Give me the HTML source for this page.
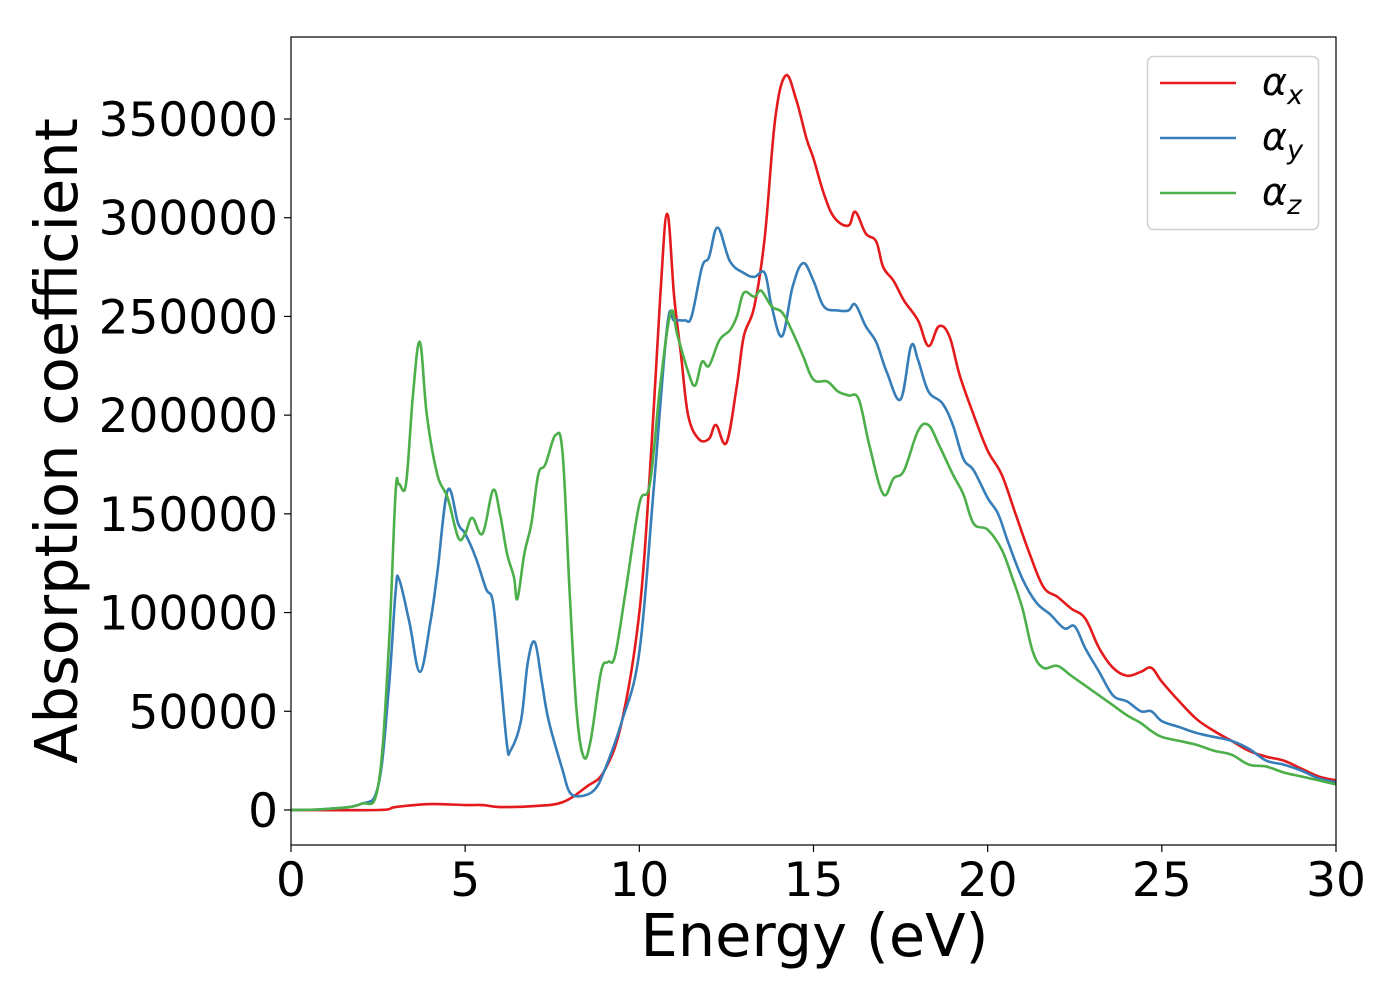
<!DOCTYPE html>
<html><head><meta charset="utf-8">
<style>
html,body{margin:0;padding:0;background:#fff;}
svg{display:block;font-family:"DejaVu Sans","Liberation Sans",sans-serif;}
</style></head>
<body>
<svg id="chart" width="1400" height="1000" viewBox="0 0 1400 1000"></svg>
<script>
const xTicks=[0,5,10,15,20,25,30];
const yTicks=[0,50000,100000,150000,200000,250000,300000,350000];
const seriesNames=["x","y","z"];
const seriesColors=["#e41a1c","#377eb8","#4daf4a"];
const redX=[0,2.5,3,4,5,5.5,6,7,7.8,8.5,9,9.5,10,10.3,10.6,10.8,11,11.2,11.4,11.7,12,12.2,12.5,12.8,13,13.3,13.6,13.9,14.2,14.5,14.8,15,15.3,15.6,16,16.2,16.5,16.8,17,17.3,17.6,18,18.3,18.6,18.9,19.2,19.6,20,20.4,20.8,21.2,21.6,22,22.4,22.8,23.2,23.6,24,24.4,24.7,25,25.5,26,26.5,27,27.5,28,28.5,29,29.5,30];
const redY=[0,0,1500,3000,2500,2500,1500,2000,4000,12000,20000,45000,100000,170000,260000,302000,260000,230000,200000,188000,188000,195000,186000,215000,240000,255000,290000,350000,372000,360000,340000,330000,312000,300000,296000,303000,292000,288000,275000,268000,258000,248000,235000,245000,240000,220000,200000,182000,170000,150000,130000,113000,108000,102000,97000,82000,72000,68000,70000,72000,65000,55000,46000,40000,35000,30000,27000,25000,21000,17000,15000];
const blueX=[0,1,2,2.5,2.8,3,3.1,3.4,3.7,4,4.2,4.5,4.8,5,5.3,5.6,5.8,6,6.2,6.3,6.6,6.8,7,7.2,7.4,7.8,8,8.3,8.7,9,9.5,10,10.4,10.8,11,11.3,11.5,11.8,12,12.25,12.6,13,13.3,13.6,13.8,14.1,14.4,14.7,15,15.3,15.7,16,16.2,16.5,16.8,17.1,17.5,17.8,18,18.3,18.7,19,19.3,19.6,20,20.3,20.6,21,21.4,21.8,22.2,22.5,22.8,23.2,23.6,24,24.4,24.7,25,25.5,26,26.5,27,27.5,28,28.5,29,29.5,30];
const blueY=[0,500,3000,12000,60000,110000,117000,95000,70000,95000,120000,162000,145000,140000,128000,112000,105000,70000,33000,30000,45000,75000,85000,65000,45000,20000,9000,7000,10000,20000,45000,80000,160000,245000,248000,248000,250000,275000,280000,295000,278000,272000,270000,272000,255000,240000,265000,277000,268000,255000,253000,253000,256000,245000,237000,222000,208000,235000,228000,212000,206000,195000,178000,172000,158000,150000,135000,117000,105000,99000,92000,93000,82000,70000,58000,55000,50000,50000,45000,42000,39000,37000,35000,31000,25000,23000,20000,16000,14000];
const greenX=[0,1,2,2.5,2.8,3,3.1,3.3,3.5,3.7,3.9,4.2,4.5,4.8,5,5.2,5.5,5.8,6,6.2,6.4,6.5,6.7,6.9,7.1,7.3,7.6,7.8,8,8.2,8.4,8.6,8.9,9.1,9.3,9.6,10,10.3,10.6,10.9,11.1,11.4,11.6,11.8,12,12.3,12.6,12.8,13,13.3,13.5,13.8,14.1,14.4,14.7,15,15.4,15.7,16,16.3,16.6,17,17.3,17.6,18,18.3,18.6,19,19.3,19.6,20,20.4,20.7,21,21.3,21.6,22,22.4,22.8,23.2,23.6,24,24.4,24.7,25,25.5,26,26.5,27,27.5,28,28.5,29,29.5,30];
const greenY=[0,500,3000,12000,80000,160000,165000,165000,210000,237000,200000,170000,158000,138000,140000,148000,140000,162000,150000,130000,118000,107000,130000,145000,170000,175000,190000,180000,110000,50000,27000,35000,70000,75000,78000,110000,155000,165000,215000,252000,240000,222000,215000,227000,225000,238000,243000,250000,262000,260000,263000,255000,252000,242000,230000,218000,217000,212000,210000,208000,185000,160000,168000,172000,192000,195000,185000,170000,160000,145000,142000,132000,118000,102000,80000,72000,73000,68000,63000,58000,53000,48000,44000,40000,37000,35000,33000,30000,28000,23000,22000,19000,17000,15000,13000];

const NS="http://www.w3.org/2000/svg";
const svg=document.getElementById("chart");
const L=291,R=1336,T=37,B=845;
const xMin=0,xMax=30,y0px=810,yScale=691/350000;
function sx(v){return L+(v-xMin)/(xMax-xMin)*(R-L);}
function sy(v){return y0px-v*yScale;}
function mk(tag,attrs,parent){const e=document.createElementNS(NS,tag);for(const k in attrs)e.setAttribute(k,attrs[k]);(parent||svg).appendChild(e);return e;}

const defs=mk("clipPath",{id:"clip"});
mk("rect",{x:L,y:T,width:R-L,height:B-T},defs);

function smoothPath(px,py){
  let d="M"+px[0].toFixed(2)+","+py[0].toFixed(2);
  const n=px.length;
  for(let i=0;i<n-1;i++){
    const x0=px[Math.max(i-1,0)],y0=py[Math.max(i-1,0)];
    const x1=px[i],y1=py[i],x2=px[i+1],y2=py[i+1];
    const x3=px[Math.min(i+2,n-1)],y3=py[Math.min(i+2,n-1)];
    const t=0.18;
    const c1x=x1+(x2-x0)*t,c1y=y1+(y2-y0)*t;
    const c2x=x2-(x3-x1)*t,c2y=y2-(y3-y1)*t;
    d+="C"+c1x.toFixed(2)+","+c1y.toFixed(2)+" "+c2x.toFixed(2)+","+c2y.toFixed(2)+" "+x2.toFixed(2)+","+y2.toFixed(2);
  }
  return d;
}

const xs=[redX,blueX,greenX],ys=[redY,blueY,greenY];
for(let s=0;s<3;s++){
  const d=smoothPath(xs[s].map(sx),ys[s].map(sy));
  const p=mk("path",{d:d,fill:"none",stroke:seriesColors[s],"stroke-width":2.6,"stroke-linejoin":"round","clip-path":"url(#clip)"});
  
  
}

const frame=mk("rect",{x:L,y:T,width:R-L,height:B-T,fill:"none",stroke:"#000","stroke-width":1.2});



xTicks.forEach(v=>{
  const t=mk("line",{x1:sx(v),x2:sx(v),y1:B,y2:B+7,stroke:"#000","stroke-width":1.2});
  
  
  const l=mk("text",{x:sx(v),y:B+51,"text-anchor":"middle","font-size":47,fill:"#000"});
  l.textContent=v;
  
  
});
yTicks.forEach(v=>{
  const t=mk("line",{x1:L-7,x2:L,y1:sy(v),y2:sy(v),stroke:"#000","stroke-width":1.2});
  
  
  const l=mk("text",{x:L-13,y:sy(v)+17,"text-anchor":"end","font-size":47,fill:"#000"});
  l.textContent=v;
  
  
});
const xt=mk("text",{x:(L+R)/2+1,y:956,"text-anchor":"middle","font-size":59,fill:"#000"});
xt.textContent="Energy (eV)";


const yt=mk("text",{x:0,y:0,"text-anchor":"middle","font-size":59,fill:"#000",transform:"translate(77,441) rotate(-90)"});
yt.textContent="Absorption coefficient";



const lg=mk("g",{});


mk("rect",{x:1147.5,y:56.5,width:171,height:173,rx:6,fill:"#fff",stroke:"#d0d0d0","stroke-width":1.5},lg);
const subs=["x","y","z"];
for(let s=0;s<3;s++){
  const yy=83+s*55;
  const ln=mk("line",{x1:1160,x2:1236,y1:yy,y2:yy,stroke:seriesColors[s],"stroke-width":2.6},lg);
  
  
  const tx=mk("text",{x:1262,y:yy+12,"font-size":38,"font-style":"italic",fill:"#000"},lg);
  
  
  const a=document.createElementNS(NS,"tspan");a.textContent="α";tx.appendChild(a);
  const b=document.createElementNS(NS,"tspan");b.setAttribute("font-size","27");b.setAttribute("dy","9");b.textContent=subs[s];tx.appendChild(b);
}
</script>
</body></html>
